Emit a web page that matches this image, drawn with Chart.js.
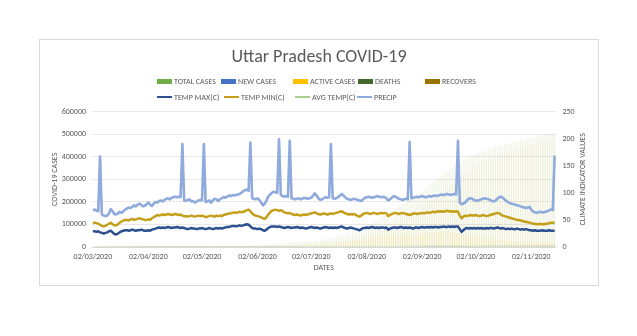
<!DOCTYPE html>
<html><head><meta charset="utf-8">
<script src="https://cdn.jsdelivr.net/npm/chart.js@4.4.1/dist/chart.umd.min.js"></script>
<style>
html,body{margin:0;padding:0;background:#fff;}
#wrap{position:relative;width:637px;height:336px;overflow:hidden;}
#card{position:absolute;left:39px;top:39px;width:558px;height:245px;border:1px solid #d9d9d9;}
canvas{position:absolute;left:0;top:0;}
#legend{position:absolute;left:0;top:0;width:637px;height:0;font-family:Carlito,Lato,sans-serif;font-size:8px;color:#595959;}
.li{position:absolute;display:flex;align-items:center;white-space:nowrap;height:10px;line-height:10px;}
.sw{display:inline-block;width:15px;margin-right:2px;}
</style></head><body>
<div id="wrap"><div id="card"></div><canvas id="c" width="637" height="336"></canvas><div id="legend"></div></div>
<script>
// Daily data, 02/03/2020 .. 15/11/2020 (one row per month)
const TOTAL_CASES = [
0,0,0,1,1,1,7,7,9,10,11,11,12,13,15,16,17,19,23,25,27,33,35,38,41,45,55,65,75,100,
113,172,174,227,278,305,326,343,361,410,433,452,483,558,657,735,805,846,969,1084,1176,1294,1412,1509,1621,1778,1843,1955,2053,2211,
2328,2487,2645,2766,2880,3071,3214,3373,3467,3664,3729,3902,4057,4259,4464,4605,4926,5175,5515,5735,5990,6268,6497,6532,6724,6991,7170,7284,7445,7701,8075,
8361,8729,9237,9733,10103,10536,10947,11335,11610,12088,12616,13118,13615,14091,14598,15181,15785,16594,17135,17731,18322,18893,19557,20193,20943,21549,22147,22828,23492,24056,
24800,25800,26600,27700,28600,29700,31200,32400,33700,35100,36500,38100,39700,41400,43400,45600,47600,49200,51200,53300,55600,58100,60800,63700,66700,70500,73900,77300,81000,85500,89000,
92900,97400,100300,104400,108900,113400,118000,122600,126700,131700,136500,140800,145300,149400,154400,158200,162500,167500,172000,177200,182500,187800,192400,197300,203000,208400,213800,219500,225600,230400,235800,
241400,247100,253200,259800,266300,272200,278500,285000,292000,299000,305800,312000,317200,324000,330300,336300,342800,348500,353800,358900,364500,370000,375000,379800,384600,388900,393500,397400,401000,404600,
408300,411700,414500,417700,420900,424000,427000,429700,432400,434900,437500,440000,442400,444700,446900,449000,451100,453100,455100,457300,459300,461200,463000,464800,466600,468500,470300,472000,474000,476000,478000,
480000,482000,484100,486000,488200,490300,492500,494500,496500,498500,500500,502400,504400,506100,507700];
const NEW_CASES = [
0,0,0,1,0,0,6,0,2,1,1,0,1,1,2,1,1,2,4,2,2,6,2,3,3,4,10,10,10,25,
13,59,2,53,51,27,21,17,18,49,23,19,31,75,99,78,70,41,123,115,92,118,118,97,112,157,65,112,98,158,
117,159,158,121,114,191,143,159,94,197,65,173,155,202,205,141,321,249,340,220,255,278,229,35,192,267,179,114,161,256,374,
286,368,508,496,370,433,411,388,275,478,528,502,497,476,507,583,604,809,541,596,591,571,664,636,750,606,598,681,664,564,
744,1000,800,1100,900,1100,1500,1200,1300,1400,1400,1600,1600,1700,2000,2200,2000,1600,2000,2100,2300,2500,2700,2900,3000,3800,3400,3400,3700,4500,3500,
3900,4500,2900,4100,4500,4500,4600,4600,4100,5000,4800,4300,4500,4100,5000,3800,4300,5000,4500,5200,5300,5300,4600,4900,5700,5400,5400,5700,6100,4800,5400,
5600,5700,6100,6600,6500,5900,6300,6500,7000,7000,6800,6200,5200,6800,6300,6000,6500,5700,5300,5100,5600,5500,5000,4800,4800,4300,4600,3900,3600,3600,
3700,3400,2800,3200,3200,3100,3000,2700,2700,2500,2600,2500,2400,2300,2200,2100,2100,2000,2000,2200,2000,1900,1800,1800,1800,1900,1800,1700,2000,2000,2000,
2000,2000,2100,1900,2200,2100,2200,2000,2000,2000,2000,1900,2000,1700,1600];
const ACTIVE_CASES = [
0,0,0,1,1,1,7,7,9,10,11,11,12,12,13,13,13,14,17,18,19,24,25,27,28,30,40,48,57,80,
92,150,150,200,245,270,290,300,315,360,380,395,420,485,570,640,700,730,830,920,980,1060,1130,1170,1200,1290,1290,1330,1350,1410,
1440,1500,1580,1580,1600,1650,1670,1710,1690,1750,1700,1720,1750,1780,1800,1780,1870,1920,2000,2030,2100,2180,2250,2200,2250,2350,2400,2450,2560,2690,2930,
3120,3350,3660,3920,4060,4250,4360,4460,4450,4630,4840,5000,5170,5340,5520,5720,5900,6200,6250,6350,6470,6580,6700,6830,6970,7040,7110,7220,7450,7450,
7720,7960,8160,8530,8800,9200,9700,10200,10700,11300,12000,12800,13600,14500,15700,16900,18000,19000,20000,20900,22000,23000,24500,26000,27000,29000,31000,32800,34000,35800,37400,
38500,40000,41000,42000,43000,44600,45800,46800,47500,48500,49400,49800,50400,50800,51300,51800,52000,51900,52000,52500,53000,53200,53600,53400,53200,52800,52200,51600,52600,54000,55500,
56500,57700,59200,60600,62000,63000,63900,64600,65800,67000,67300,67800,68200,68300,67800,67500,66800,65800,64800,63800,62500,61500,60300,59000,57500,56400,55100,53700,52000,50800,
49200,47500,46000,44800,43700,42400,41000,39800,38700,37600,36400,35200,33900,33000,31900,31300,30500,29700,28800,28000,27300,26500,25700,24900,24300,23600,23000,22500,22000,21500,21000,
21000,20900,20700,20600,20500,20700,20800,21000,21200,21500,21800,22100,22300,22500,22800];
const DEATHS = [
0,0,0,0,0,0,0,0,0,0,0,0,0,0,0,0,0,0,0,0,0,0,0,0,0,0,0,0,1,1,
2,2,2,2,3,3,3,4,5,5,5,5,5,6,8,10,11,13,14,17,17,18,20,21,25,26,29,31,34,37,
43,49,51,60,62,63,66,74,80,82,84,86,95,103,104,108,118,127,138,152,155,161,169,182,182,188,194,197,201,213,222,
229,238,245,257,275,283,283,301,321,341,364,386,409,435,456,470,488,507,529,550,569,588,611,625,649,660,672,697,718,735,
755,773,785,809,827,845,862,889,913,934,955,983,1012,1046,1085,1108,1146,1192,1229,1263,1289,1337,1387,1426,1456,1497,1530,1587,1630,1677,1730,
1778,1817,1857,1918,1981,2028,2069,2120,2176,2230,2280,2335,2393,2449,2515,2585,2638,2690,2745,2797,2867,2926,2987,3059,3141,3217,3294,3356,3423,3486,3542,
3616,3691,3762,3843,3920,3976,4047,4112,4206,4264,4349,4429,4491,4604,4690,4771,4869,4953,5047,5135,5212,5299,5366,5436,5517,5594,5652,5715,5776,5812,
5864,5917,5977,6017,6051,6100,6153,6187,6235,6294,6356,6394,6438,6466,6507,6530,6589,6624,6658,6685,6714,6754,6778,6809,6839,6872,6896,6918,6950,6980,7005,
7024,7053,7081,7108,7139,7164,7199,7227,7257,7287,7323,7353,7382,7406,7441];
const RECOVERS = [
0,0,0,0,0,0,0,0,0,0,0,0,0,1,2,3,4,5,6,7,8,9,10,11,13,15,15,17,17,19,
19,20,22,25,30,32,33,39,41,45,48,52,58,67,79,85,94,103,125,147,179,216,262,318,396,462,524,594,669,764,
845,938,1014,1126,1215,1358,1478,1589,1697,1832,1949,2096,2212,2376,2560,2717,2938,3128,3377,3553,3735,3927,4078,4150,4292,4453,4576,4637,4684,4798,4923,
5012,5141,5326,5556,5768,6003,6304,6574,6839,7117,7408,7732,8036,8316,8622,8991,9397,9887,10356,10831,11283,11725,12246,12738,13324,13849,14365,14911,15324,15871,
16300,17000,17600,18300,19000,19600,20600,21300,22100,22800,23500,24300,25100,25900,26600,27600,28500,29000,30000,31100,32300,33800,34900,36300,38200,40000,41400,42900,45400,48000,49900,
52600,55600,57400,60400,63900,66800,70100,73700,77000,81000,84800,88700,92500,96200,100600,103800,107900,113000,117300,121900,126600,131700,135800,140800,146700,152400,158300,164500,169600,172900,176800,
181300,185700,190200,195400,200400,205200,210600,216300,222000,227700,234200,239800,244500,251100,257800,264000,271100,277700,284000,290000,296800,303200,309300,315400,321600,326900,332700,338000,343200,348000,
353200,358300,362500,366900,371200,375500,379900,383700,387500,391000,394800,398400,402100,405200,408500,411200,414000,416800,419600,422600,425300,428000,430500,433100,435500,438000,440400,442600,445000,447500,450000,
452000,454000,456300,458300,460600,462400,464500,466300,468000,469700,471400,472900,474700,476200,477400];
const TEMP_MAX = [
29,29,28,29,27,26,25,26,27,29,30,27,24,23,25,27,29,30,31,31,30,31,32,31,30,31,31,32,31,30,
30,31,30,32,33,34,35,36,35,36,35,36,37,36,35,36,36,37,36,35,36,35,34,33,34,35,34,34,33,34,
34,35,34,33,34,35,34,33,34,35,34,35,34,35,36,37,37,38,39,39,38,39,40,39,40,41,42,41,38,35,34,
34,33,34,33,31,30,32,35,37,38,38,38,37,38,37,36,35,36,37,36,35,36,36,37,36,35,36,35,34,35,
36,37,36,35,36,35,34,35,36,37,36,35,36,35,36,35,36,37,38,36,35,34,35,36,35,34,33,32,31,33,35,
35,36,35,36,37,36,35,36,35,36,36,35,36,32,34,35,36,36,35,36,37,36,35,36,35,36,35,34,36,36,35,
36,37,36,36,37,36,37,36,37,37,36,37,37,38,37,37,38,37,38,37,38,38,33,28,31,34,35,34,35,34,
35,34,35,34,35,34,34,35,34,35,35,34,35,36,35,34,35,34,33,34,33,34,33,33,34,33,32,33,32,33,32,
31,31,30,31,30,30,30,31,30,30,30,31,30,30,30];
const TEMP_MIN = [
44,45,44,43,41,39,38,39,41,43,45,42,40,40,42,45,47,49,50,50,49,51,52,50,51,52,53,52,51,50,
50,51,50,53,55,57,59,58,59,60,59,60,61,60,59,60,61,60,59,60,58,57,57,56,57,58,57,56,57,58,
57,58,57,55,56,57,58,57,56,58,57,58,57,59,60,61,62,62,63,64,63,64,65,64,65,66,68,69,66,62,59,
58,57,56,55,53,52,55,60,64,67,68,69,68,67,68,66,64,63,62,63,61,60,59,60,59,58,59,60,59,60,
61,62,63,64,62,61,60,61,62,61,60,61,62,61,62,63,64,65,66,64,62,61,60,61,60,61,59,57,56,58,61,
62,63,62,61,62,63,62,61,62,63,62,63,62,57,59,61,62,63,62,61,62,63,62,61,60,59,60,62,62,61,62,
62,63,62,63,64,63,64,65,64,65,66,65,66,65,66,67,66,65,66,65,66,65,58,53,56,58,57,58,59,58,
58,59,58,57,58,59,58,57,58,59,60,61,62,63,62,60,58,57,56,55,54,53,52,51,50,50,49,48,47,46,46,
45,44,43,43,42,42,43,42,42,43,43,44,45,45,45];
const AVG_TEMP = [
21,22,21,22,20,19,19,20,21,22,23,21,19,19,20,22,23,24,25,25,24,25,26,25,25,26,26,26,25,25,
25,26,25,27,28,29,30,30,30,31,30,31,31,31,30,31,31,31,30,31,30,29,29,28,29,30,29,29,29,29,
29,30,29,28,29,30,29,29,29,30,29,30,29,30,31,32,32,33,34,34,33,34,35,34,35,36,37,37,35,32,31,
31,30,30,29,27,27,28,31,33,34,34,35,34,34,34,33,32,32,32,32,31,31,31,31,31,30,31,31,30,31,
31,32,32,32,31,31,30,31,31,31,31,31,32,31,32,32,32,33,34,32,31,30,30,31,30,30,29,28,27,28,30,
30,31,30,30,31,31,30,30,30,31,31,31,31,29,30,31,31,32,31,31,32,32,31,31,30,30,30,30,31,31,31,
31,32,31,31,32,31,32,32,32,32,32,32,32,33,32,32,33,32,33,32,33,33,30,27,29,31,31,31,32,31,
31,31,31,30,31,31,30,30,30,31,31,32,32,32,32,31,30,30,29,29,28,28,27,27,27,26,26,26,25,25,25,
24,24,23,23,22,22,22,22,22,22,22,23,23,23,23];
const PRECIP = [
68,69,67,66,167,60,58,57,58,62,70,66,61,60,62,65,63,66,69,71,73,72,74,77,75,78,80,78,75,76,
79,82,78,76,80,83,82,85,86,84,87,89,90,88,91,92,93,92,93,92,190,86,85,87,88,84,85,82,84,86,
87,86,190,83,84,86,82,86,89,88,85,88,90,92,91,93,95,94,96,95,96,97,98,100,103,105,106,104,193,90,89,
88,90,87,82,77,80,86,93,97,100,102,101,100,199,96,94,93,94,93,196,90,89,88,89,90,88,89,91,90,89,
90,91,95,99,95,90,87,88,90,92,91,92,190,90,89,90,92,95,98,95,92,89,88,87,88,89,88,87,86,85,88,
91,92,93,92,91,92,93,94,93,92,93,92,90,86,88,91,94,93,91,89,88,87,88,89,88,194,90,91,92,93,92,
93,94,93,92,93,94,93,94,95,94,95,96,97,96,97,98,97,96,97,98,97,196,82,79,80,82,86,89,90,89,
87,86,85,87,88,89,90,89,88,87,85,84,86,89,92,93,91,88,85,83,81,80,79,78,77,76,75,74,73,72,73,
74,69,65,64,63,64,65,64,64,65,66,68,69,68,169];

const TICK_LABELS = ['02/03/2020','02/04/2020','02/05/2020','02/06/2020','02/07/2020','02/08/2020','02/09/2020','02/10/2020','02/11/2020'];
const LEFT_TICKS = [0,100000,200000,300000,400000,500000,600000];
const RIGHT_TICKS = [0,50,100,150,200,250];
const RIGHT_TITLE = 'CLIMATE INDICATOR VALUES';

// daily category labels DD/MM/YYYY starting 02/03/2020
const DATES = PRECIP.map((_, i) => {
  const d = new Date(Date.UTC(2020, 2, 2 + i));
  const p = n => String(n).padStart(2, '0');
  return p(d.getUTCDate()) + '/' + p(d.getUTCMonth() + 1) + '/' + d.getUTCFullYear();
});

const FONT = 'Carlito, Lato, sans-serif';
const GREY = '#595959';

const barBase = { type: 'bar', yAxisID: 'y', grouped: false, barPercentage: 0.5, categoryPercentage: 1, borderWidth: 0, order: 2 };
const lineBase = { type: 'line', pointRadius: 0, pointHoverRadius: 0, tension: 0, order: 1, borderJoinStyle: 'round' };

const datasets = [
  Object.assign({ label: 'TOTAL CASES', data: TOTAL_CASES, backgroundColor: 'rgba(150,175,70,0.15)', legendColor: '#70AD47', legendType: 'box' }, barBase),
  Object.assign({ label: 'NEW CASES', data: NEW_CASES, backgroundColor: 'rgba(68,114,196,0.4)', legendColor: '#4472C4', legendType: 'box' }, barBase),
  Object.assign({ label: 'ACTIVE CASES', data: ACTIVE_CASES, backgroundColor: 'rgba(255,205,40,0.18)', legendColor: '#FFC000', legendType: 'box' }, barBase),
  Object.assign({ label: 'DEATHS', data: DEATHS, backgroundColor: 'rgba(55,86,35,0.4)', legendColor: '#43682B', legendType: 'box' }, barBase),
  Object.assign({ label: 'RECOVERS', data: RECOVERS, backgroundColor: 'rgba(200,170,40,0.07)', legendColor: '#997300', legendType: 'box' }, barBase),
  Object.assign({ label: 'TEMP MAX(C)', data: TEMP_MAX, yAxisID: 'y1', borderColor: '#2C4F8F', borderWidth: 2.5, legendColor: '#2C4F8F', legendType: 'line' }, lineBase),
  Object.assign({ label: 'TEMP MIN(C)', data: TEMP_MIN, yAxisID: 'y1', borderColor: '#C4A01A', borderWidth: 2.5, legendColor: '#C4A01A', legendType: 'line' }, lineBase),
  Object.assign({ label: 'AVG TEMP(C)', data: AVG_TEMP, yAxisID: 'y', borderColor: '#C5DDB0', borderWidth: 1.2, legendColor: '#A9D18E', legendType: 'line' }, lineBase),
  Object.assign({ label: 'PRECIP', data: PRECIP, yAxisID: 'y1', borderColor: '#8FAADC', borderWidth: 2.6, legendColor: '#8FAADC', legendType: 'line' }, lineBase)
];

// right-hand axis title, drawn reading bottom-to-top like the reference
const rightTitle = {
  id: 'rightTitle',
  afterDraw(c) {
    const a = c.chartArea, ctx = c.ctx;
    ctx.save();
    ctx.translate(583, (a.top + a.bottom) / 2);
    ctx.rotate(-Math.PI / 2);
    ctx.fillStyle = GREY;
    ctx.font = '8px ' + FONT;
    ctx.textAlign = 'center';
    ctx.textBaseline = 'middle';
    ctx.fillText(RIGHT_TITLE, 0, 0);
    ctx.restore();
  }
};

const chart = new Chart(document.getElementById('c'), {
  type: 'bar',
  data: { labels: DATES, datasets: datasets },
  plugins: [rightTitle],
  options: {
    responsive: false,
    devicePixelRatio: 1,
    animation: false,
    layout: { padding: { top: 41, left: 40, right: 39, bottom: 48 } },
    plugins: {
      legend: { display: false },
      tooltip: { enabled: false },
      title: { display: true, text: 'Uttar Pradesh COVID-19', color: GREY,
        font: { family: FONT, size: 18, weight: 'normal' }, padding: { top: 6, bottom: 43 } }
    },
    scales: {
      x: {
        type: 'category',
        grid: { display: false, drawTicks: false },
        border: { display: true, color: '#d9d9d9', width: 1 },
        ticks: { autoSkip: false, maxRotation: 0, minRotation: 0, padding: 5, color: GREY,
          font: { family: FONT, size: 8 },
          callback: function (v, i) { return TICK_LABELS.includes(DATES[i]) ? DATES[i] : null; } },
        title: { display: true, text: 'DATES', color: GREY, font: { family: FONT, size: 8 }, padding: { top: 0, bottom: 15 } },
        afterFit: s => { s.height = 41; }
      },
      y: {
        position: 'left', min: 0, max: 600000,
        afterBuildTicks: s => { s.ticks = LEFT_TICKS.map(v => ({ value: v })); },
        grid: { color: '#e3e3e3', lineWidth: 0.8, drawTicks: false },
        border: { display: false },
        ticks: { padding: 6, color: GREY, font: { family: FONT, size: 8 }, callback: v => String(v) },
        title: { display: true, text: 'COVID-19 CASES', color: GREY, font: { family: FONT, size: 8 }, padding: { top: 10, bottom: 0 } },
        afterFit: s => { s.width = 52; }
      },
      y1: {
        position: 'right', min: 0, max: 250,
        afterBuildTicks: s => { s.ticks = RIGHT_TICKS.map(v => ({ value: v })); },
        grid: { drawOnChartArea: false, drawTicks: false },
        border: { display: false },
        ticks: { padding: 7, color: GREY, font: { family: FONT, size: 8 }, callback: v => String(v) },
        title: { display: false },
        afterFit: s => { s.width = 42.5; }
      }
    }
  }
});

// HTML legend built from the chart's datasets
const LEGEND_POS = [[157,76],[221,76],[293,76],[358,76],[425,76],[157,92],[224,92],[295,92],[357,92]];
const leg = document.getElementById('legend');
chart.data.datasets.forEach((ds, i) => {
  const item = document.createElement('div');
  item.className = 'li';
  item.style.left = LEGEND_POS[i][0] + 'px';
  item.style.top = LEGEND_POS[i][1] + 'px';
  const sw = document.createElement('span');
  sw.className = 'sw';
  sw.style.height = ds.legendType === 'box' ? '5px' : '2.5px';
  sw.style.background = ds.legendColor;
  const tx = document.createElement('span');
  tx.textContent = ds.label;
  item.appendChild(sw); item.appendChild(tx);
  leg.appendChild(item);
});
</script></body></html>
